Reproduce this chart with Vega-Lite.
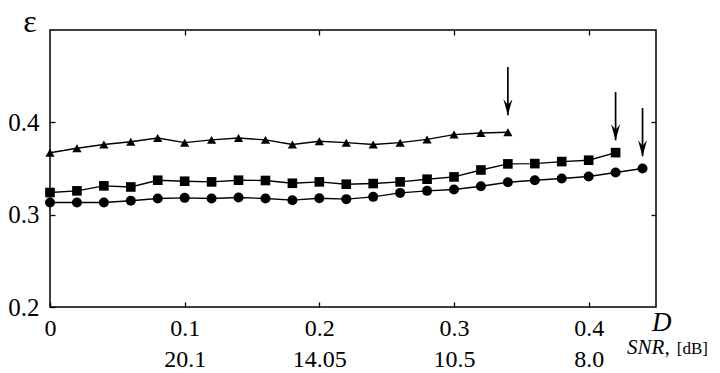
{
  "$schema": "https://vega.github.io/schema/vega-lite/v6.json",
  "width": 606,
  "height": 277,
  "autosize": "none",
  "padding": {"left": 50, "top": 30, "right": 64, "bottom": 66},
  "background": "white",
  "config": {
    "view": {"stroke": "black", "strokeWidth": 1.5},
    "font": "Liberation Serif",
    "axis": {
      "domain": false,
      "grid": false,
      "tickColor": "black",
      "tickWidth": 1.3,
      "tickSize": -5,
      "labelFont": "Liberation Serif",
      "labelColor": "black",
      "title": null
    }
  },
  "datasets": {
    "curves": [
      {"series": "triangle", "D": 0.00, "eps": 0.367},
      {"series": "triangle", "D": 0.02, "eps": 0.372},
      {"series": "triangle", "D": 0.04, "eps": 0.376},
      {"series": "triangle", "D": 0.06, "eps": 0.379},
      {"series": "triangle", "D": 0.08, "eps": 0.383},
      {"series": "triangle", "D": 0.10, "eps": 0.378},
      {"series": "triangle", "D": 0.12, "eps": 0.381},
      {"series": "triangle", "D": 0.14, "eps": 0.383},
      {"series": "triangle", "D": 0.16, "eps": 0.381},
      {"series": "triangle", "D": 0.18, "eps": 0.376},
      {"series": "triangle", "D": 0.20, "eps": 0.3795},
      {"series": "triangle", "D": 0.22, "eps": 0.378},
      {"series": "triangle", "D": 0.24, "eps": 0.376},
      {"series": "triangle", "D": 0.26, "eps": 0.378},
      {"series": "triangle", "D": 0.28, "eps": 0.3815},
      {"series": "triangle", "D": 0.30, "eps": 0.3867},
      {"series": "triangle", "D": 0.32, "eps": 0.3884},
      {"series": "triangle", "D": 0.34, "eps": 0.3892},
      {"series": "square", "D": 0.00, "eps": 0.324},
      {"series": "square", "D": 0.02, "eps": 0.3258},
      {"series": "square", "D": 0.04, "eps": 0.3312},
      {"series": "square", "D": 0.06, "eps": 0.330},
      {"series": "square", "D": 0.08, "eps": 0.3373},
      {"series": "square", "D": 0.10, "eps": 0.3362},
      {"series": "square", "D": 0.12, "eps": 0.3355},
      {"series": "square", "D": 0.14, "eps": 0.3373},
      {"series": "square", "D": 0.16, "eps": 0.337},
      {"series": "square", "D": 0.18, "eps": 0.334},
      {"series": "square", "D": 0.20, "eps": 0.3355},
      {"series": "square", "D": 0.22, "eps": 0.333},
      {"series": "square", "D": 0.24, "eps": 0.3337},
      {"series": "square", "D": 0.26, "eps": 0.3355},
      {"series": "square", "D": 0.28, "eps": 0.3384},
      {"series": "square", "D": 0.30, "eps": 0.3409},
      {"series": "square", "D": 0.32, "eps": 0.3484},
      {"series": "square", "D": 0.34, "eps": 0.355},
      {"series": "square", "D": 0.36, "eps": 0.3553},
      {"series": "square", "D": 0.38, "eps": 0.3575},
      {"series": "square", "D": 0.40, "eps": 0.359},
      {"series": "square", "D": 0.42, "eps": 0.3672},
      {"series": "circle", "D": 0.00, "eps": 0.3132},
      {"series": "circle", "D": 0.02, "eps": 0.3132},
      {"series": "circle", "D": 0.04, "eps": 0.3132},
      {"series": "circle", "D": 0.06, "eps": 0.315},
      {"series": "circle", "D": 0.08, "eps": 0.3175},
      {"series": "circle", "D": 0.10, "eps": 0.3182},
      {"series": "circle", "D": 0.12, "eps": 0.3175},
      {"series": "circle", "D": 0.14, "eps": 0.3186},
      {"series": "circle", "D": 0.16, "eps": 0.3175},
      {"series": "circle", "D": 0.18, "eps": 0.3157},
      {"series": "circle", "D": 0.20, "eps": 0.3178},
      {"series": "circle", "D": 0.22, "eps": 0.3168},
      {"series": "circle", "D": 0.24, "eps": 0.3193},
      {"series": "circle", "D": 0.26, "eps": 0.3236},
      {"series": "circle", "D": 0.28, "eps": 0.3258},
      {"series": "circle", "D": 0.30, "eps": 0.3272},
      {"series": "circle", "D": 0.32, "eps": 0.3308},
      {"series": "circle", "D": 0.34, "eps": 0.3351},
      {"series": "circle", "D": 0.36, "eps": 0.3373},
      {"series": "circle", "D": 0.38, "eps": 0.3391},
      {"series": "circle", "D": 0.40, "eps": 0.3413},
      {"series": "circle", "D": 0.42, "eps": 0.3456},
      {"series": "circle", "D": 0.44, "eps": 0.350}
    ],
    "arrows": [
      {"D": 0.34, "top": 0.4598, "tip": 0.4076},
      {"D": 0.42, "top": 0.4328, "tip": 0.3805},
      {"D": 0.44, "top": 0.4155, "tip": 0.3632}
    ],
    "labels": [
      {"text": "ε", "D": 0.0, "eps": 0.5, "kind": "eps"},
      {"text": "D", "D": 0.4543, "eps": 0.2, "kind": "D"},
      {"text": "SNR,", "D": 0.4285, "eps": 0.2, "kind": "snr"},
      {"text": "[dB]", "D": 0.4655, "eps": 0.2, "kind": "db"}
    ]
  },
  "layer": [
    {
      "data": {"name": "curves"},
      "mark": {"type": "line", "color": "black", "strokeWidth": 1.4},
      "encoding": {
        "x": {
          "field": "D", "type": "quantitative",
          "scale": {"domain": [0, 0.45], "nice": false, "zero": false},
          "axis": {
            "orient": "bottom",
            "values": [0, 0.1, 0.2, 0.3, 0.4],
            "labelExpr": "datum.value == 0 ? '0' : datum.value == 0.1 ? ['0.1', '20.1'] : datum.value == 0.2 ? ['0.2', '14.05'] : datum.value == 0.3 ? ['0.3', '10.5'] : ['0.4', '8.0']",
            "labelFont": "Liberation Serif",
            "labelFontSize": 24,
            "labelLineHeight": 31,
            "labelBaseline": "top",
            "labelPadding": 14,
            "labelDx": 10,
            "labelFlush": false
          }
        },
        "y": {
          "field": "eps", "type": "quantitative",
          "scale": {"domain": [0.2, 0.5], "nice": false, "zero": false},
          "axis": {
            "orient": "left",
            "values": [0.2, 0.3, 0.4],
            "format": ".1f",
            "labelFont": "Liberation Serif",
            "labelFontSize": 25,
            "labelPadding": 16,
            "labelFlush": false
          }
        },
        "detail": {"field": "series"}
      }
    },
    {
      "data": {"name": "curves"},
      "mark": {"type": "point", "filled": true, "color": "black", "opacity": 1},
      "encoding": {
        "x": {
          "field": "D", "type": "quantitative",
          "scale": {"domain": [0, 0.45], "nice": false, "zero": false},
          "axis": {"orient": "top", "values": [0.1, 0.2, 0.3, 0.4], "labels": false}
        },
        "y": {
          "field": "eps", "type": "quantitative",
          "scale": {"domain": [0.2, 0.5], "nice": false, "zero": false},
          "axis": {"orient": "right", "values": [0.3, 0.4], "labels": false}
        },
        "shape": {
          "field": "series", "type": "nominal",
          "scale": {"domain": ["circle", "square", "triangle"], "range": ["circle", "square", "triangle-up"]},
          "legend": null
        },
        "size": {
          "field": "series", "type": "nominal",
          "scale": {"domain": ["circle", "square", "triangle"], "range": [100, 85, 130]},
          "legend": null
        }
      }
    },
    {
      "data": {"name": "arrows"},
      "mark": {"type": "rule", "color": "black", "strokeWidth": 1.7},
      "encoding": {
        "x": {"field": "D", "type": "quantitative", "axis": null},
        "y": {"field": "top", "type": "quantitative", "axis": null},
        "y2": {"field": "tip"}
      }
    },
    {
      "data": {"name": "arrows"},
      "mark": {"type": "point", "filled": true, "color": "black", "opacity": 1, "size": 400,
               "shape": "M 0 0 L -0.45 -1.6 L 0 -1.05 L 0.45 -1.6 Z"},
      "encoding": {
        "x": {"field": "D", "type": "quantitative", "axis": null},
        "y": {"field": "tip", "type": "quantitative", "axis": null}
      }
    },
    {
      "data": {"name": "labels"},
      "transform": [{"filter": "datum.kind == 'eps'"}],
      "mark": {"type": "text", "font": "Liberation Serif", "fontSize": 32, "align": "center", "baseline": "alphabetic", "dx": -20, "dy": 2, "color": "black", "clip": false},
      "encoding": {
        "x": {"field": "D", "type": "quantitative", "axis": null},
        "y": {"field": "eps", "type": "quantitative", "axis": null},
        "text": {"field": "text"}
      }
    },
    {
      "data": {"name": "labels"},
      "transform": [{"filter": "datum.kind == 'D'"}],
      "mark": {"type": "text", "font": "Liberation Serif", "fontStyle": "italic", "fontSize": 27, "align": "center", "baseline": "alphabetic", "dy": 24, "color": "black"},
      "encoding": {
        "x": {"field": "D", "type": "quantitative", "axis": null},
        "y": {"field": "eps", "type": "quantitative", "axis": null},
        "text": {"field": "text"}
      }
    },
    {
      "data": {"name": "labels"},
      "transform": [{"filter": "datum.kind == 'snr'"}],
      "mark": {"type": "text", "font": "Liberation Serif", "fontStyle": "italic", "fontSize": 21, "align": "left", "baseline": "alphabetic", "dy": 47, "color": "black"},
      "encoding": {
        "x": {"field": "D", "type": "quantitative", "axis": null},
        "y": {"field": "eps", "type": "quantitative", "axis": null},
        "text": {"field": "text"}
      }
    },
    {
      "data": {"name": "labels"},
      "transform": [{"filter": "datum.kind == 'db'"}],
      "mark": {"type": "text", "font": "Liberation Serif", "fontSize": 17, "align": "left", "baseline": "alphabetic", "dy": 47, "color": "black"},
      "encoding": {
        "x": {"field": "D", "type": "quantitative", "axis": null},
        "y": {"field": "eps", "type": "quantitative", "axis": null},
        "text": {"field": "text"}
      }
    }
  ],
  "resolve": {"axis": {"x": "independent", "y": "independent"}}
}
